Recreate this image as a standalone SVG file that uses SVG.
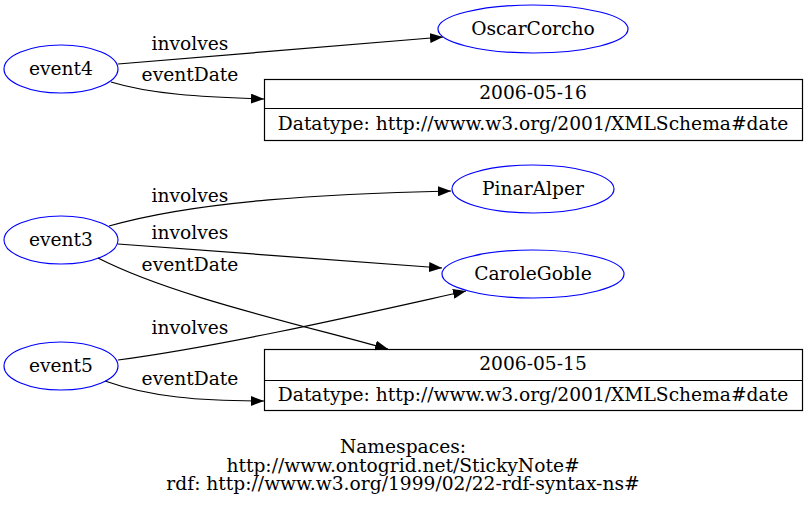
<svg xmlns="http://www.w3.org/2000/svg" width="807" height="509" viewBox="0 0 807 509">
<defs>
<style>
text{font-family:"DejaVu Serif",serif;font-size:18.67px;fill:#000}
.n ellipse{fill:none;stroke:#0000ff;stroke-width:1.2}
.b rect,.b line{fill:none;stroke:#000;stroke-width:1.2}
.e path{fill:none;stroke:#000;stroke-width:1.2}
</style>
<marker id="ah" viewBox="0 0 13 10" refX="13" refY="5" markerWidth="13" markerHeight="10" markerUnits="userSpaceOnUse" orient="auto"><path d="M0,0L13,5L0,10z" fill="#000"/></marker>
</defs>
<rect width="807" height="509" fill="#fff"/>
<g id="edges" class="e">
<path d="M118,64 L443,37" marker-end="url(#ah)"/>
<path d="M111,82 C150,94 200,97 264,99" marker-end="url(#ah)"/>
<path d="M109,226 C200,200 330,194 451,191" marker-end="url(#ah)"/>
<path d="M118,244 L442,268" marker-end="url(#ah)"/>
<path d="M98,258 C170,295 290,322 388,349" marker-end="url(#ah)"/>
<path d="M118,360 C230,345 380,310 466,291" marker-end="url(#ah)"/>
<path d="M105,381 C150,397 200,401 264,401" marker-end="url(#ah)"/>
<text x="190" y="50" text-anchor="middle">involves</text>
<text x="190" y="81" text-anchor="middle">eventDate</text>
<text x="190" y="202" text-anchor="middle">involves</text>
<text x="190" y="239" text-anchor="middle">involves</text>
<text x="190" y="271" text-anchor="middle">eventDate</text>
<text x="190" y="334" text-anchor="middle">involves</text>
<text x="190" y="385" text-anchor="middle">eventDate</text>
</g>
<g id="event4" class="n"><ellipse cx="61" cy="69" rx="57" ry="24"/><text x="61" y="75" text-anchor="middle">event4</text></g>
<g id="event3" class="n"><ellipse cx="61" cy="240" rx="57" ry="24"/><text x="61" y="246" text-anchor="middle">event3</text></g>
<g id="event5" class="n"><ellipse cx="61" cy="366" rx="57" ry="24"/><text x="61" y="372" text-anchor="middle">event5</text></g>
<g id="OscarCorcho" class="n"><ellipse cx="533" cy="29" rx="95" ry="24"/><text x="533" y="35" text-anchor="middle">OscarCorcho</text></g>
<g id="PinarAlper" class="n"><ellipse cx="533" cy="189" rx="81" ry="24"/><text x="533" y="195" text-anchor="middle">PinarAlper</text></g>
<g id="CaroleGoble" class="n"><ellipse cx="533" cy="274" rx="91" ry="24"/><text x="533" y="280" text-anchor="middle">CaroleGoble</text></g>
<g id="date16" class="b"><rect x="264.5" y="79.5" width="538" height="61"/><line x1="264.5" y1="108.5" x2="802.5" y2="108.5"/><text x="533" y="99" text-anchor="middle">2006-05-16</text><text x="533" y="130" text-anchor="middle">Datatype: http://www.w3.org/2001/XMLSchema#date</text></g>
<g id="date15" class="b"><rect x="264.5" y="349.5" width="538" height="61"/><line x1="264.5" y1="380.5" x2="802.5" y2="380.5"/><text x="533" y="370" text-anchor="middle">2006-05-15</text><text x="533" y="401" text-anchor="middle">Datatype: http://www.w3.org/2001/XMLSchema#date</text></g>
<g id="legend"><text x="403" y="453" text-anchor="middle">Namespaces:</text><text x="403" y="472" text-anchor="middle">http://www.ontogrid.net/StickyNote#</text><text x="403" y="490" text-anchor="middle">rdf: http://www.w3.org/1999/02/22-rdf-syntax-ns#</text></g>
</svg>
